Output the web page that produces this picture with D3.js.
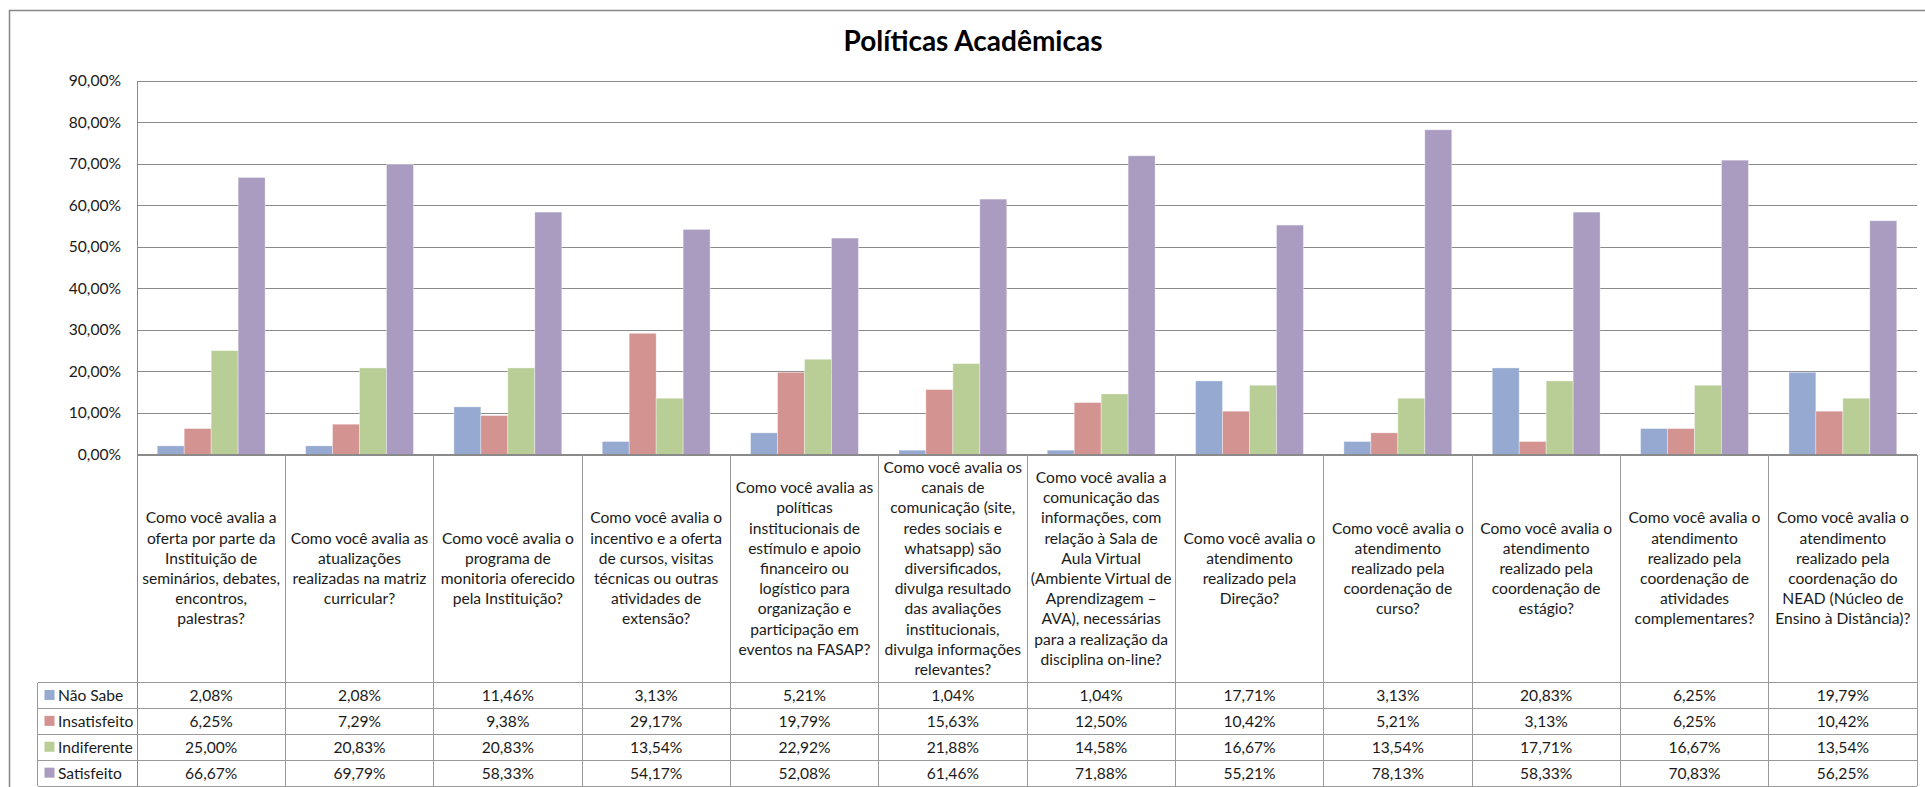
<!DOCTYPE html>
<html>
<head>
<meta charset="utf-8">
<script src="https://cdn.jsdelivr.net/npm/d3@7"></script>
<style>
  html, body { margin: 0; padding: 0; background: #ffffff; }
  svg { display: block; }
  text { font-family: Lato, "Noto Sans", sans-serif; fill: #1a1a1a; }
</style>
</head>
<body>
<svg id="chart" width="1925" height="787"></svg>
<script>
// ---------- DATA ----------
const title = "Políticas Acadêmicas";

const categories = [
  ["Como você avalia a", "oferta por parte da", "Instituição de", "seminários, debates,", "encontros,", "palestras?"],
  ["Como você avalia as", "atualizações", "realizadas na matriz", "curricular?"],
  ["Como você avalia o", "programa de", "monitoria oferecido", "pela Instituição?"],
  ["Como você avalia o", "incentivo e a oferta", "de cursos, visitas", "técnicas ou outras", "atividades de", "extensão?"],
  ["Como você avalia as", "políticas", "institucionais de", "estímulo e apoio", "financeiro ou", "logístico para", "organização e", "participação em", "eventos na FASAP?"],
  ["Como você avalia os", "canais de", "comunicação (site,", "redes sociais e", "whatsapp) são", "diversificados,", "divulga resultado", "das avaliações", "institucionais,", "divulga informações", "relevantes?"],
  ["Como você  avalia a", "comunicação das", "informações, com", "relação à Sala de", "Aula Virtual", "(Ambiente Virtual de", "Aprendizagem –", "AVA), necessárias", "para a realização da", "disciplina on-line?"],
  ["Como você avalia o", "atendimento", "realizado pela", "Direção?"],
  ["Como você avalia o", "atendimento", "realizado pela", "coordenação de", "curso?"],
  ["Como você avalia o", "atendimento", "realizado pela", "coordenação de", "estágio?"],
  ["Como você avalia o", "atendimento", "realizado pela", "coordenação de", "atividades", "complementares?"],
  ["Como você avalia o", "atendimento", "realizado pela", "coordenação do", "NEAD (Núcleo de", "Ensino à Distância)?"]
];

const seriesNames = ["Não Sabe", "Insatisfeito", "Indiferente", "Satisfeito"];

const naoSabe     = [2.08, 2.08, 11.46, 3.13, 5.21, 1.04, 1.04, 17.71, 3.13, 20.83, 6.25, 19.79];
const insatisfeito = [6.25, 7.29, 9.38, 29.17, 19.79, 15.63, 12.50, 10.42, 5.21, 3.13, 6.25, 10.42];
const indiferente = [25.00, 20.83, 20.83, 13.54, 22.92, 21.88, 14.58, 16.67, 13.54, 17.71, 16.67, 13.54];
const satisfeito  = [66.67, 69.79, 58.33, 54.17, 52.08, 61.46, 71.88, 55.21, 78.13, 58.33, 70.83, 56.25];

const yTicks = [0, 10, 20, 30, 40, 50, 60, 70, 80, 90];

const seriesValues = [naoSabe, insatisfeito, indiferente, satisfeito];
const colors = ["#95a9d1", "#d39391", "#b9cd96", "#aa9cc0"];

// ---------- LAYOUT ----------
const svg = d3.select("#chart");
const plotLeft = 137, plotRight = 1917, plotTop = 80.5, plotBottom = 454.5;
const tableLeft = 37.5;
const headerBottom = 682.5;
const rowH = 25.9;
const lineH = 20.2;
const fontSize = 15.6;
const gridColor = "#8a8a8a";
const tableColor = "#9a9a9a";

const catIdx = d3.range(categories.length);
const x0 = d3.scaleBand().domain(catIdx).range([plotLeft, plotRight]).paddingInner(0).paddingOuter(0);
const x1 = d3.scaleBand().domain(d3.range(seriesNames.length)).range([0, x0.bandwidth()]).paddingInner(0).paddingOuter(0.75);
const y = d3.scaleLinear().domain([0, 90]).range([plotBottom, plotTop]);

const fmt = v => d3.format(".2f")(v).replace(".", ",") + "%";

// outer border
svg.append("path")
  .attr("d", `M9.5,800 V10.5 H1940`)
  .attr("fill", "none").attr("stroke", "#868686").attr("stroke-width", 1.5);

// title
svg.append("text")
  .attr("x", 973)
  .attr("y", 51)
  .attr("text-anchor", "middle")
  .style("font-size", "28px")
  .style("font-weight", "bold")
  .style("fill", "#000")
  .text(title);

// gridlines
const grid = svg.append("g").attr("transform", `translate(${plotLeft},0)`)
  .call(d3.axisLeft(y).tickValues(yTicks).tickSize(-(plotRight - plotLeft)).tickFormat(""));
grid.select(".domain").remove();
grid.selectAll(".tick line").attr("stroke", gridColor).attr("stroke-width", 1).attr("shape-rendering", "crispEdges");

// y axis labels
const yAxis = svg.append("g").attr("transform", `translate(${plotLeft},0)`)
  .call(d3.axisLeft(y).tickValues(yTicks).tickSize(0).tickPadding(16).tickFormat(fmt));
yAxis.select(".domain").remove();
yAxis.selectAll("text")
  .style("font-size", fontSize + "px")
  .style("font-family", "Lato, 'Noto Sans', sans-serif")
  .attr("fill", "#1a1a1a");

// bars
const groups = svg.append("g").selectAll("g").data(catIdx).join("g")
  .attr("transform", d => `translate(${x0(d)},0)`);
groups.selectAll("rect")
  .data(c => seriesValues.map((vals, s) => ({ s, v: vals[c] })))
  .join("rect")
  .attr("x", d => x1(d.s))
  .attr("width", x1.bandwidth())
  .attr("y", d => y(d.v))
  .attr("height", d => y(0) - y(d.v))
  .attr("fill", d => colors[d.s])
  .attr("stroke", "#ffffff")
  .attr("stroke-opacity", 0.45)
  .attr("stroke-width", 0.8);

// base line (0%)
svg.append("line")
  .attr("x1", plotLeft).attr("x2", plotRight)
  .attr("y1", y(0)).attr("y2", y(0))
  .attr("stroke", gridColor).attr("shape-rendering", "crispEdges");

// vertical dividers: axis line and category boundaries extending through table
const tableBottom = headerBottom + rowH * seriesNames.length;
svg.append("line")
  .attr("x1", plotLeft).attr("x2", plotLeft)
  .attr("y1", plotTop).attr("y2", tableBottom)
  .attr("stroke", gridColor).attr("shape-rendering", "crispEdges");
svg.append("g").selectAll("line").data(catIdx).join("line")
  .attr("x1", d => x0(d) + x0.bandwidth()).attr("x2", d => x0(d) + x0.bandwidth())
  .attr("y1", y(0)).attr("y2", tableBottom)
  .attr("stroke", tableColor).attr("shape-rendering", "crispEdges");

// category labels
const headerMid = (plotBottom + headerBottom) / 2;
svg.append("g").selectAll("text").data(catIdx).join("text")
  .attr("text-anchor", "middle")
  .style("font-size", fontSize + "px")
  .each(function (c) {
    const lines = categories[c];
    const cx = x0(c) + x0.bandwidth() / 2;
    const first = headerMid - (lines.length - 1) * lineH / 2;
    d3.select(this).selectAll("tspan").data(lines).join("tspan")
      .attr("x", cx)
      .attr("y", (d, i) => first + i * lineH)
      .attr("dy", "0.35em")
      .text(d => d);
  });

// table rows
for (let r = 0; r <= seriesNames.length; r++) {
  svg.append("line")
    .attr("x1", tableLeft).attr("x2", plotRight)
    .attr("y1", headerBottom + r * rowH).attr("y2", headerBottom + r * rowH)
    .attr("stroke", tableColor).attr("shape-rendering", "crispEdges");
}
svg.append("line")
  .attr("x1", tableLeft).attr("x2", tableLeft)
  .attr("y1", headerBottom).attr("y2", tableBottom)
  .attr("stroke", tableColor).attr("shape-rendering", "crispEdges");

seriesNames.forEach((name, s) => {
  const cy = headerBottom + s * rowH + rowH / 2;
  svg.append("rect")
    .attr("x", 44.5).attr("y", cy - 5.5)
    .attr("width", 10).attr("height", 10)
    .attr("fill", colors[s]);
  svg.append("text")
    .attr("x", 58).attr("y", cy).attr("dy", "0.35em")
    .style("font-size", fontSize + "px")
    .text(name);
  svg.append("g").selectAll("text").data(catIdx).join("text")
    .attr("x", c => x0(c) + x0.bandwidth() / 2)
    .attr("y", cy).attr("dy", "0.35em")
    .attr("text-anchor", "middle")
    .style("font-size", fontSize + "px")
    .text(c => fmt(seriesValues[s][c]));
});
</script>
</body>
</html>
